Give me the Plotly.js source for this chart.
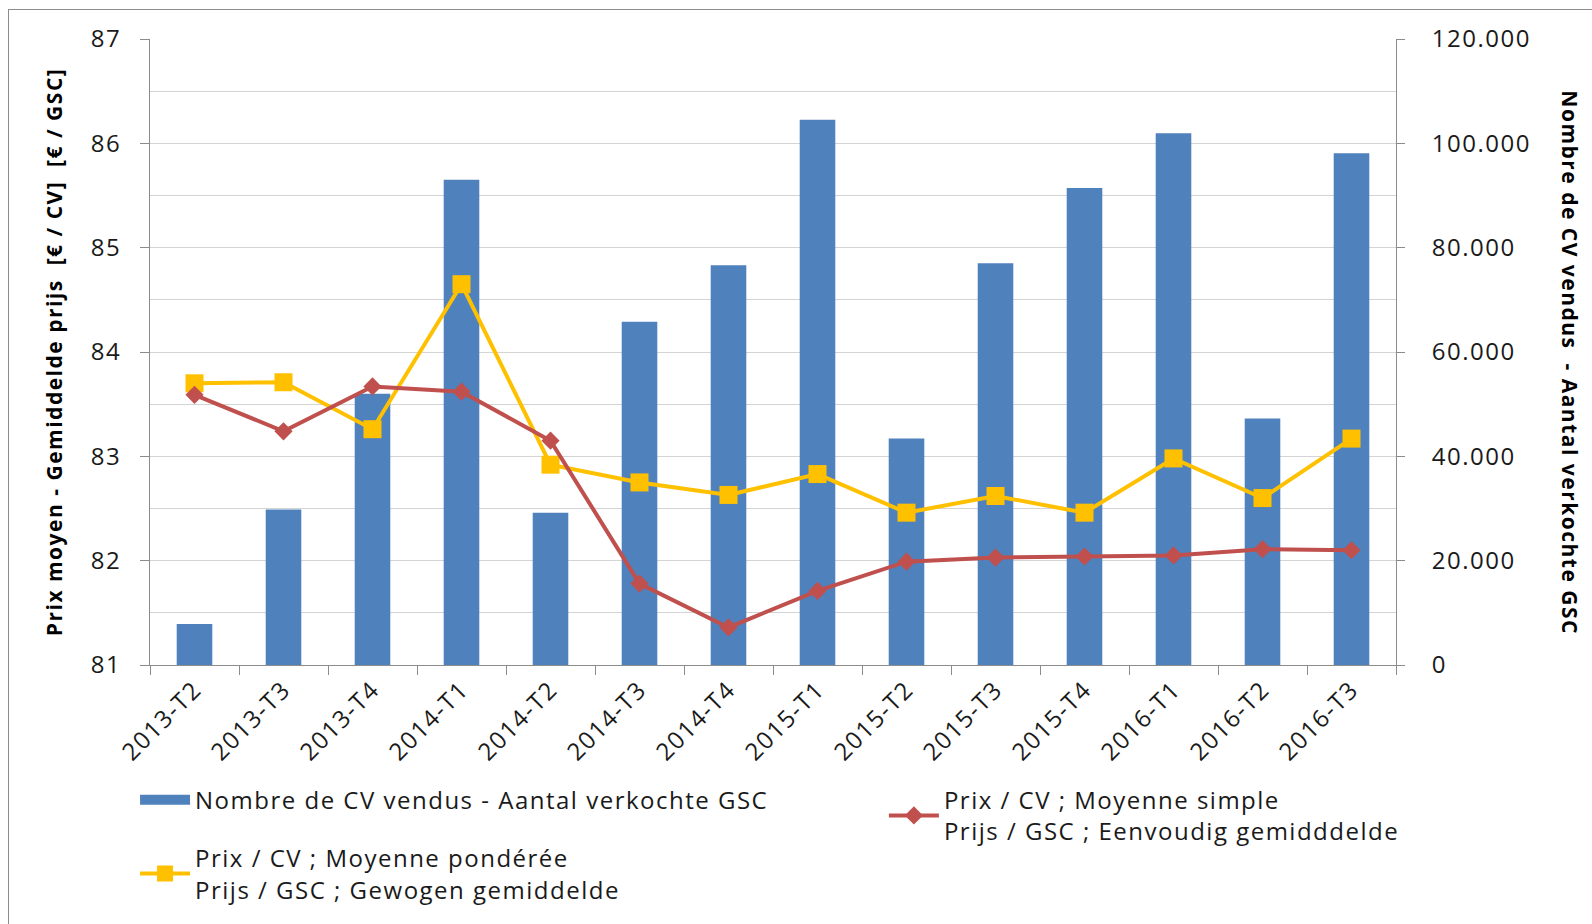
<!DOCTYPE html>
<html>
<head>
<meta charset="utf-8">
<script src="https://cdn.plot.ly/plotly-3.0.1.min.js"></script>
<style>
  html, body { margin: 0; padding: 0; background: #fff; overflow: hidden; }
  #chart { width: 1592px; height: 924px; }
  svg text { letter-spacing: 1.5px; }
  #frame { position: absolute; left: 8px; top: 9px; width: 1700px; height: 1100px;
           border: 1.5px solid #8c8c8c; pointer-events: none; }
</style>
</head>
<body>
<div id="chart"></div>
<div id="frame"></div>
<script>
const categories = ["2013-T2","2013-T3","2013-T4","2014-T1","2014-T2","2014-T3","2014-T4",
                    "2015-T1","2015-T2","2015-T3","2015-T4","2016-T1","2016-T2","2016-T3"];
const volumeSold = [7850, 29800, 52000, 93000, 29200, 65800, 76650,
                    104500, 43400, 77000, 91450, 101950, 47250, 98100];
const simpleAvg = [83.59, 83.24, 83.67, 83.62, 83.15, 81.78, 81.36,
                   81.71, 81.99, 82.03, 82.04, 82.05, 82.11, 82.10];
const weightedAvg = [83.70, 83.71, 83.26, 84.65, 82.92, 82.75, 82.63,
                     82.83, 82.46, 82.62, 82.46, 82.98, 82.60, 83.17];

const nameBar = "Nombre de CV vendus - Aantal verkochte GSC";
const nameSimple = "Prix / CV ; Moyenne simple<br>Prijs / GSC ; Eenvoudig gemidddelde";
const nameWeighted = "Prix / CV ; Moyenne pondérée<br>Prijs / GSC ; Gewogen gemiddelde";
const titleLeft = "Prix moyen - Gemiddelde prijs\u00a0 [€ / CV]\u00a0 [€ / GSC]";
const titleRight = "Nombre de CV vendus\u00a0 - Aantal verkochte GSC";

const FONT = "Open Sans, DejaVu Sans, sans-serif";
const axisGrey = "#8c8c8c";
const gridGrey = "#d4d4d4";
const barBlue = "#4F81BD";

const traces = [
  {
    type: "bar", name: nameBar, x: categories, y: volumeSold,
    xaxis: "x", yaxis: "y",
    marker: { color: barBlue },
    showlegend: false,
    hoverinfo: "x+y"
  },
  {
    // legend-only entry for the bar series (wide swatch as in the original); draws no mark
    type: "scatter", mode: "lines", name: nameBar,
    x: [categories[0]], y: [null], xaxis: "x", yaxis: "y",
    line: { color: barBlue, width: 15 },
    legend: "legend", legendgroup: "g1", showlegend: true, hoverinfo: "skip"
  },
  {
    type: "scatter", mode: "lines+markers", name: nameWeighted,
    x: categories, y: weightedAvg, xaxis: "x", yaxis: "y2",
    line: { color: "#FFC000", width: 4 },
    marker: { symbol: "square", size: 18, color: "#FFC000" },
    legend: "legend", legendgroup: "g2"
  },
  {
    type: "scatter", mode: "lines+markers", name: nameSimple,
    x: categories, y: simpleAvg, xaxis: "x", yaxis: "y2",
    line: { color: "#C0504D", width: 4 },
    marker: { symbol: "diamond", size: 14, color: "#C0504D" },
    legend: "legend2"
  }
];

const layout = {
  width: 1592, height: 924,
  margin: { l: 150, r: 196, t: 39, b: 259 },
  paper_bgcolor: "rgba(0,0,0,0)",
  plot_bgcolor: "rgba(0,0,0,0)",
  separators: ",.",
  font: { family: FONT, size: 24, color: "#1a1a1a" },
  showlegend: true,
  bargap: 0.6,
  xaxis: {
    type: "category",
    range: [-0.5, 13.5], autorange: false,
    tickson: "boundaries",
    ticks: "outside", ticklen: 9, tickcolor: axisGrey, tickwidth: 1,
    showline: true, linecolor: axisGrey, linewidth: 1,
    showgrid: false, zeroline: false,
    tickangle: -45,
    tickfont: { family: FONT, size: 24, color: "#1a1a1a" }
  },
  yaxis: {
    side: "right",
    range: [0, 120000],
    dtick: 20000, tick0: 0,
    tickformat: ",d",
    ticks: "outside", ticklen: 8, tickcolor: axisGrey,
    showline: true, linecolor: axisGrey, linewidth: 1,
    showgrid: true, gridcolor: gridGrey, gridwidth: 1,
    minor: { dtick: 10000, showgrid: true, gridcolor: gridGrey, gridwidth: 1, ticks: "" },
    zeroline: false,
    ticklabelstandoff: 22,
    tickfont: { family: FONT, size: 24, color: "#1a1a1a" }
  },
  yaxis2: {
    overlaying: "y", side: "left",
    range: [81, 87], dtick: 1,
    ticks: "outside", ticklen: 9, tickcolor: axisGrey,
    showline: true, linecolor: axisGrey, linewidth: 1,
    showgrid: false, zeroline: false,
    ticklabelstandoff: 14,
    tickfont: { family: FONT, size: 24, color: "#1a1a1a" },
    title: { text: titleLeft, standoff: 22,
             font: { family: FONT, size: 21, weight: "bold", color: "#000" } }
  },
  annotations: [
    {
      text: titleRight, xref: "paper", yref: "paper",
      x: 1.1396, y: 0.482, xanchor: "center", yanchor: "middle",
      textangle: 90, showarrow: false,
      font: { family: FONT, size: 21, weight: "bold", color: "#000" }
    }
  ],
  legend: {
    orientation: "v",
    x: -0.012, xanchor: "left",
    y: -0.18, yanchor: "top",
    traceorder: "grouped", tracegroupgap: 24,
    itemwidth: 50,
    bgcolor: "rgba(0,0,0,0)",
    font: { family: FONT, size: 24, color: "#1a1a1a" }
  },
  legend2: {
    orientation: "v",
    x: 0.589, xanchor: "left",
    y: -0.18, yanchor: "top",
    itemwidth: 50,
    bgcolor: "rgba(0,0,0,0)",
    font: { family: FONT, size: 24, color: "#1a1a1a" }
  }
};

Plotly.newPlot("chart", traces, layout, { displayModeBar: false, staticPlot: true });
</script>
</body>
</html>
